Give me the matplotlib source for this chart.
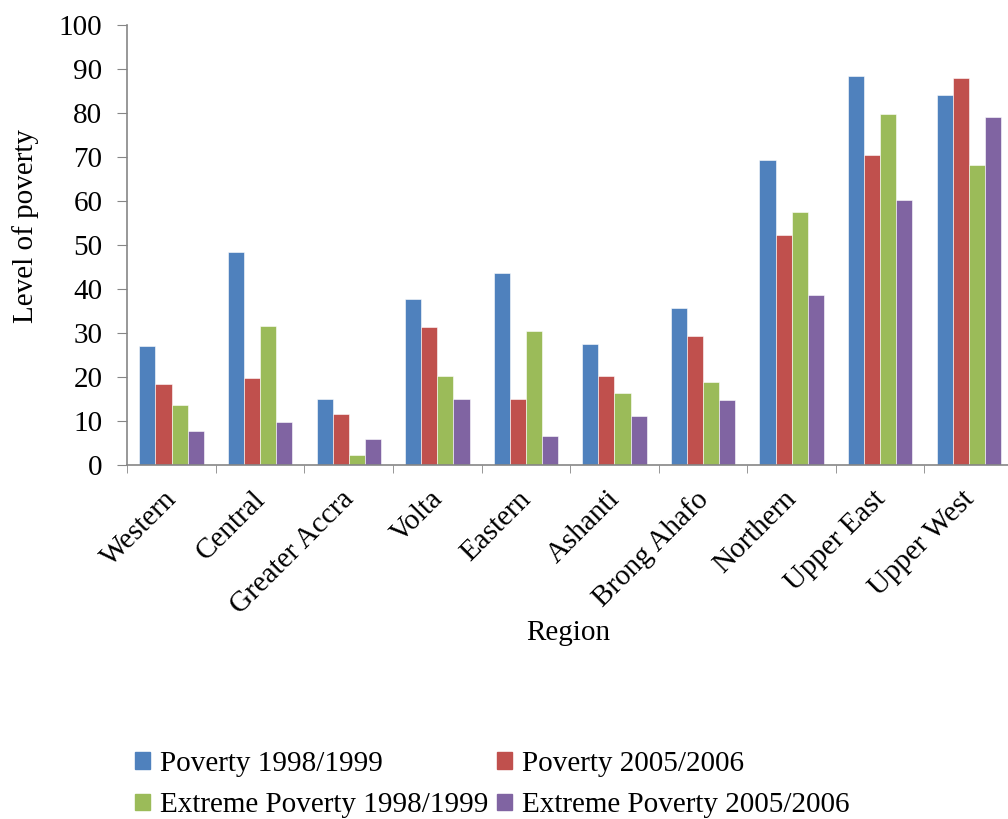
import numpy as np
import matplotlib
matplotlib.use("Agg")
import matplotlib.pyplot as plt
import matplotlib.transforms as mtransforms
from matplotlib.patches import Patch

plt.rcParams['font.family'] = ['Liberation Serif', 'DejaVu Serif']

# data
regions = ['Western', 'Central', 'Greater Accra', 'Volta', 'Eastern', 'Ashanti',
           'Brong Ahafo', 'Northern', 'Upper East', 'Upper West']
poverty_9899 = [27.1, 48.3, 15.1, 37.7, 43.6, 27.6, 35.7, 69.2, 88.3, 84.0]
poverty_0506 = [18.3, 19.8, 11.7, 31.3, 15.1, 20.2, 29.3, 52.2, 70.4, 87.8]
extreme_9899 = [13.6, 31.6, 2.3, 20.2, 30.4, 16.3, 18.8, 57.4, 79.7, 68.2]
extreme_0506 = [7.7, 9.7, 6.0, 15.1, 6.6, 11.1, 14.8, 38.7, 60.1, 79.0]

series_names = ['Poverty 1998/1999', 'Poverty 2005/2006',
                'Extreme Poverty 1998/1999', 'Extreme Poverty 2005/2006']
series = [poverty_9899, poverty_0506, extreme_9899, extreme_0506]
colors = ['#4F81BD', '#C0504D', '#9BBB59', '#8064A2']

fs = 21

fig = plt.figure(figsize=(10.08, 8.19), dpi=100)
ax = fig.add_axes([0.1263, 0.4322, 0.8787, 0.5376])

x = np.arange(len(regions))
w = 1 / 5.5  # excel gap width 150%
for i, (vals, col) in enumerate(zip(series, colors)):
    ax.bar(x + (i - 1.5) * w, vals, width=w, color=col, edgecolor='white', linewidth=0.4)

ax.set_xlim(-0.5, len(regions) - 0.5)
ax.set_ylim(0, 100)
ax.set_yticks(range(0, 101, 10))
ax.tick_params(axis='y', labelsize=fs, length=7, color='#868686', pad=11)

# category labels at centre, tick marks at the boundaries
ax.set_xticks(x)
ax.set_xticklabels(regions, rotation=45, ha='right', rotation_mode='anchor', fontsize=fs)
ax.tick_params(axis='x', which='major', length=0, pad=15)
ax.set_xticks(np.arange(-0.5, len(regions), 1), minor=True)
ax.tick_params(axis='x', which='minor', length=6, color='#868686')
shift = mtransforms.ScaledTranslation(-8 / 100, 0, fig.dpi_scale_trans)
for lab in ax.get_xticklabels():
    lab.set_transform(lab.get_transform() + shift)

for s in ['top', 'right']:
    ax.spines[s].set_visible(False)
for s in ['left', 'bottom']:
    ax.spines[s].set_color('#868686')
    ax.spines[s].set_linewidth(1.2)

fig.text(26 / 1008, 1 - 226 / 819, 'Level of poverty', rotation=90, fontsize=fs,
         ha='center', va='center')
fig.text(568 / 1008, 1 - 633 / 819, 'Region', fontsize=fs, ha='center', va='center')

handles = [Patch(color=c) for c in colors]
order = [0, 2, 1, 3]
fig.legend([handles[i] for i in order], [series_names[i] for i in order],
           ncol=2, loc='upper left', bbox_to_anchor=(135 / 1008, 1 - 751 / 819),
           frameon=False, fontsize=fs, handlelength=0.5, handleheight=0.5,
           handletextpad=0.35, columnspacing=0.3, labelspacing=0.52, borderpad=0,
           borderaxespad=0)

fig.savefig('out.png', dpi=100)
